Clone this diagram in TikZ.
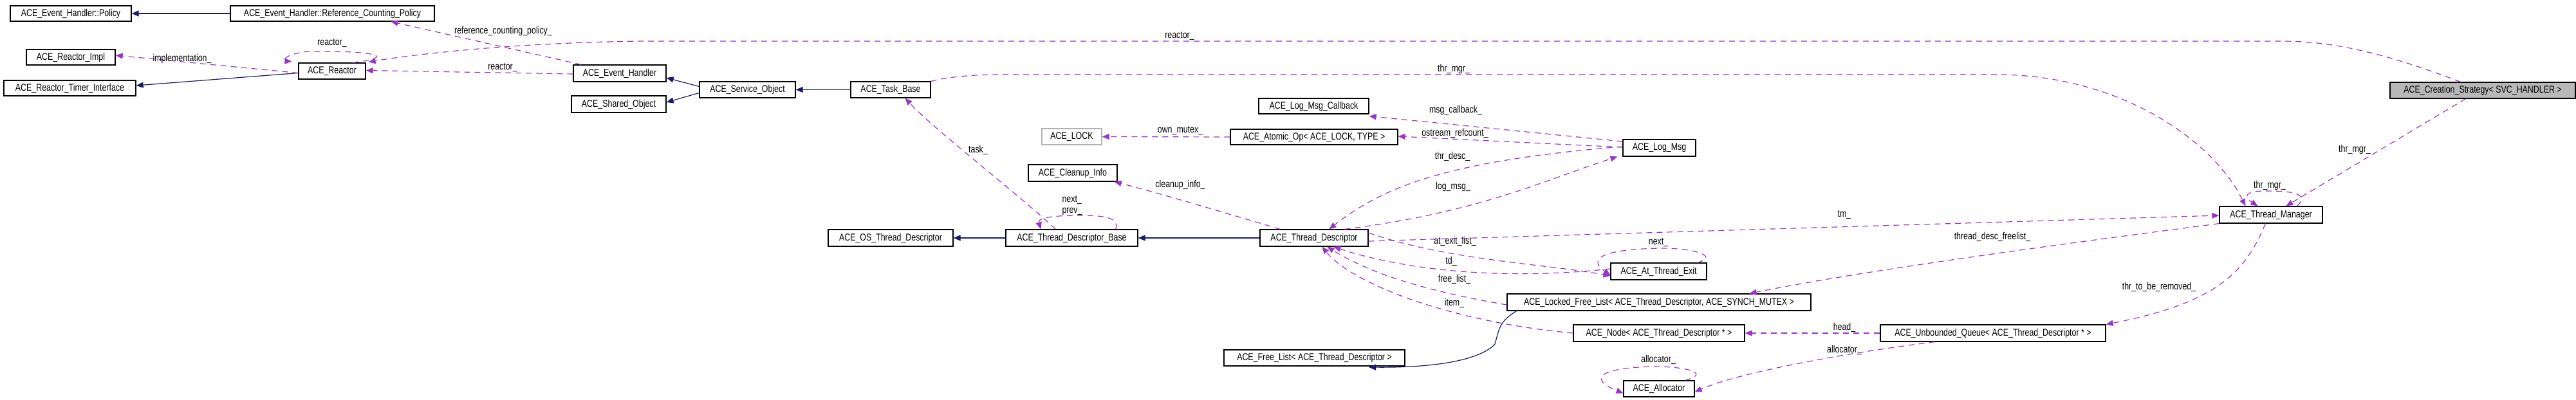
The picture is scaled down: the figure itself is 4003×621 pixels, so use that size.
\documentclass[tikz,border=0pt]{standalone}
\usepackage{fontspec}
\setmainfont{Liberation Sans}[FakeStretch=0.8]
\usetikzlibrary{arrows.meta,calc}
\begin{document}
\begin{tikzpicture}[x=1pt,y=-1pt,
  font=\fontsize{15.5}{17}\selectfont,
  box/.style={draw=black,line width=1.2pt,inner sep=0pt,fill=white},
  undoc/.style={box,draw=black!30},
  main/.style={box,fill=black!28},
  inh/.style={draw=inhc,line width=1.2pt,-{Triangle[length=11pt,width=9pt]}},
  use/.style={draw=usec,line width=1.2pt,dash pattern=on 9pt off 7pt,-{Triangle[length=11pt,width=9pt]},fill=none},
  lbl/.style={inner sep=1pt}]
\definecolor{inhc}{HTML}{191970}
\definecolor{usec}{HTML}{9A32CD}
\useasboundingbox (0,0) rectangle (4003,621);
\newcommand\B[7][box]{\node[#1,minimum width={(#5-#3)*1pt},minimum height={(#6-#4)*1pt}] (#2) at ({(#3+#5)/2},{(#4+#6)/2}) {#7};}
\newcommand\Lb[3]{\node[lbl] (#1) at (#2) {#3};}
\B{policy}{16}{9}{204}{33}{ACE\_Event\_Handler::Policy}
\B{refpol}{358}{9}{675}{33}{ACE\_Event\_Handler::Reference\_Counting\_Policy}
\B{rimpl}{41}{77}{179}{101}{ACE\_Reactor\_Impl}
\B{rtimer}{6}{125}{211}{149}{ACE\_Reactor\_Timer\_Interface}
\B{reactor}{464}{98}{568}{123}{ACE\_Reactor}
\B{evh}{891}{101}{1035}{127}{ACE\_Event\_Handler}
\B{shobj}{888}{149}{1035}{175}{ACE\_Shared\_Object}
\B{svcobj}{1087}{127}{1236}{152}{ACE\_Service\_Object}
\B{task}{1322}{127}{1446}{152}{ACE\_Task\_Base}
\B[undoc]{lock}{1619}{200}{1712}{225}{ACE\_LOCK}
\B{cleanup}{1598}{256}{1736}{282}{ACE\_Cleanup\_Info}
\B{osdesc}{1287}{357}{1481}{383}{ACE\_OS\_Thread\_Descriptor}
\B{tdbase}{1563}{357}{1768}{383}{ACE\_Thread\_Descriptor\_Base}
\B{logcb}{1956}{153}{2127}{177}{ACE\_Log\_Msg\_Callback}
\B{atomic}{1912}{201}{2172}{225}{ACE\_Atomic\_Op< ACE\_LOCK, TYPE >}
\B{logmsg}{2522}{217}{2635}{243}{ACE\_Log\_Msg}
\B{tdesc}{1958}{357}{2126}{383}{ACE\_Thread\_Descriptor}
\B{atexit}{2503}{409}{2652}{435}{ACE\_At\_Thread\_Exit}
\B{lfl}{2342}{457}{2814}{483}{ACE\_Locked\_Free\_List< ACE\_Thread\_Descriptor, ACE\_SYNCH\_MUTEX >}
\B{node}{2445}{505}{2711}{531}{ACE\_Node< ACE\_Thread\_Descriptor * >}
\B{freelist}{1902}{544}{2183}{569}{ACE\_Free\_List< ACE\_Thread\_Descriptor >}
\B{alloc}{2523}{592}{2633}{617}{ACE\_Allocator}
\B{uq}{2922}{505}{3272}{531}{ACE\_Unbounded\_Queue< ACE\_Thread\_Descriptor * >}
\B{tm}{3449}{321}{3609}{347}{ACE\_Thread\_Manager}
\B[main]{cs}{3714}{128}{4002}{153}{ACE\_Creation\_Strategy< SVC\_HANDLER >}
% inheritance
\draw[inh] (refpol.west) -- (policy.east);
\draw[inh] ([yshift=-3pt]reactor.west) -- ([yshift=4pt]rtimer.east);
\draw[inh] ([yshift=5pt]svcobj.west) -- ([yshift=-7pt]evh.east);
\draw[inh] ([yshift=-5pt]svcobj.west) -- ([yshift=3pt]shobj.east);
\draw[inh] (task.west) -- (svcobj.east);
\draw[inh] (tdbase.west) -- (osdesc.east);
\draw[inh] (tdesc.west) -- (tdbase.east);
\coordinate (flend) at (2127,571);
\draw[inh] ([xshift=15pt]lfl.south west) .. controls (2330,500) and (2330,510) .. (2323,535) .. controls (2300,560) and (2230,572) .. (flend);
% usage
\draw[use] ([yshift=-3pt]reactor.west) -- ([yshift=3pt]rimpl.east);
\draw[use] ([xshift=-20pt]reactor.north east) .. controls (640,85) and (540,78) .. (480,80) .. controls (440,84) and (440,95) .. ([xshift=-10pt,yshift=2pt]reactor.north west);
\draw[use] ([yshift=-1pt]evh.west) -- ([yshift=1pt]reactor.east);
\draw[use] ([xshift=-60pt]evh.north) -- ([xshift=91pt]refpol.south);
\draw[use] ([xshift=110pt]cs.north west) .. controls (3700,80) and (3620,64) .. (3546,64) -- (1000,64) .. controls (800,66) and (640,85) .. ([xshift=4pt,yshift=1pt]reactor.north east);
\draw[use] (task.north east) .. controls (1480,118) and (1520,116) .. (1560,116) -- (3112,116) .. controls (3300,120) and (3440,220) .. ([xshift=41pt]tm.north west);
\draw[use] ([xshift=118pt]cs.north west|-cs.south) -- ([xshift=104pt]tm.north west);
\draw[use] ([xshift=-40pt]tm.north east) .. controls (3590,300) and (3560,297) .. (3520,297) .. controls (3490,297) and (3485,305) .. ([xshift=60pt]tm.north west);
\draw[use] ([yshift=-5pt]tdesc.east) -- ([yshift=-1pt]tm.west);
\draw[use] (tm.south west) .. controls (3200,380) and (2900,420) .. ([xshift=377pt]lfl.north west);
\draw[use] ([xshift=72pt]tm.south west) .. controls (3490,420) and (3450,470) .. (uq.north east);
\draw[use] (uq.west) -- (node.east);
\draw[use] ([xshift=85pt]uq.south west) .. controls (2860,550) and (2700,580) .. ([yshift=-5pt]alloc.east);
\draw[use] ([xshift=-15pt]alloc.north east) .. controls (2660,580) and (2620,570) .. (2570,570) .. controls (2480,572) and (2470,590) .. ([yshift=-7pt]alloc.west);
\draw[use] ([xshift=-15pt]atexit.north east) .. controls (2670,400) and (2640,386) .. (2580,386) .. controls (2480,388) and (2470,405) .. ([yshift=-6pt]atexit.west);
\draw[use] ([yshift=4pt]atexit.west) .. controls (2300,440) and (2150,410) .. ([xshift=115pt]tdesc.south west);
\draw[use] ([yshift=8pt]tdesc.east) .. controls (2250,405) and (2400,410) .. ([yshift=-7pt]atexit.west);
\draw[use] ([yshift=-4pt]lfl.west) .. controls (2200,450) and (2120,420) .. ([xshift=105pt]tdesc.south west);
\draw[use] (node.west) .. controls (2250,500) and (2100,440) .. ([xshift=97pt]tdesc.south west);
\draw[use] ([yshift=2pt]logmsg.west) .. controls (2250,250) and (2150,290) .. ([xshift=108pt]tdesc.north west);
\draw[use] ([xshift=132pt]tdesc.north west) .. controls (2300,330) and (2400,280) .. ([xshift=-8pt]logmsg.south west);
\draw[use] ([yshift=10pt]logmsg.west) -- ([yshift=-3pt]logcb.south east);
\draw[use] ([yshift=1pt]logmsg.west) -- ([yshift=1pt]atomic.east);
\draw[use] (atomic.west) -- (lock.east);
\draw[use] ([xshift=32pt]tdesc.north west) .. controls (1900,330) and (1800,300) .. ([xshift=-5pt]cleanup.south east);
\draw[use] ([xshift=78pt]tdbase.north west) .. controls (1580,300) and (1450,200) .. ([xshift=-40pt]task.south east);
\draw[use] ([xshift=-35pt]tdbase.north east) .. controls (1740,340) and (1720,335) .. (1680,335) .. controls (1640,335) and (1612,338) .. ([xshift=55pt]tdbase.north west);
% labels
\Lb{l1}{283,91}{implementation\_}
\Lb{l2}{516,67}{reactor\_}
\Lb{l3}{781,105}{reactor\_}
\Lb{l4}{782,48}{reference\_counting\_policy\_}
\Lb{l5}{1833,56}{reactor\_}
\Lb{l6}{2259,107}{thr\_mgr\_}
\Lb{l7}{3659,232}{thr\_mgr\_}
\Lb{l8}{3527,288}{thr\_mgr\_}
\Lb{l9}{2866,334}{tm\_}
\Lb{l10}{3096,368}{thread\_desc\_freelist\_}
\Lb{l11}{3355,446}{thr\_to\_be\_removed\_}
\Lb{l12}{2866,509}{head\_}
\Lb{l13}{2866,544}{allocator\_}
\Lb{l14}{2577,559}{allocator\_}
\Lb{l15}{2577,377}{next\_}
\Lb{l16}{2255,406}{td\_}
\Lb{l17}{2261,375}{at\_exit\_list\_}
\Lb{l18}{2260,434}{free\_list\_}
\Lb{l19}{2260,471}{item\_}
\Lb{l20}{2257,243}{thr\_desc\_}
\Lb{l21}{2258,290}{log\_msg\_}
\Lb{l22}{2262,171}{msg\_callback\_}
\Lb{l23}{2261,207}{ostream\_refcount\_}
\Lb{l24}{1834,203}{own\_mutex\_}
\Lb{l25}{1834,287}{cleanup\_info\_}
\Lb{l26}{1520,233}{task\_}
\node[lbl,align=left] (l27) at (1666,320) {next\_\\prev\_};
\end{tikzpicture}
\end{document}
